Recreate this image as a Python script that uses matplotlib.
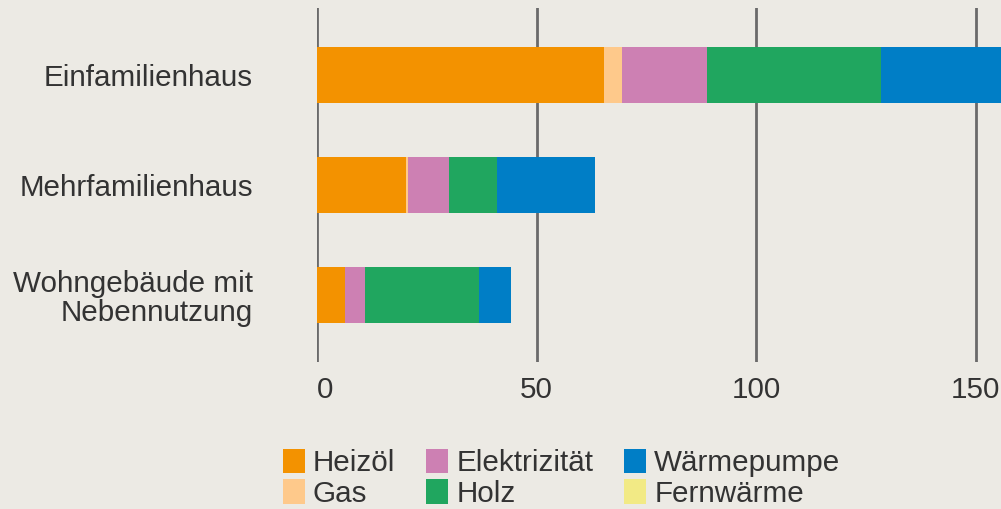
import numpy as np
import matplotlib.pyplot as plt

plt.rcParams['font.family'] = ['Liberation Sans', 'DejaVu Sans']

categories = ['Einfamilienhaus', 'Mehrfamilienhaus', 'Wohngebäude mit\nNebennutzung']
heizoel = [65.3, 20.3, 6.4]
gas = [4.2, 0.5, 0.0]
elektrizitaet = [19.4, 9.3, 4.5]
holz = [39.6, 11.0, 26.0]
waermepumpe = [35.0, 22.3, 7.3]
fernwaerme = [0.0, 0.0, 0.0]
xticks = [0, 50, 100, 150]

series = [
    ('Heizöl', heizoel, '#f39200'),
    ('Gas', gas, '#fec98b'),
    ('Elektrizität', elektrizitaet, '#cd80b3'),
    ('Holz', holz, '#20a65f'),
    ('Wärmepumpe', waermepumpe, '#007ec6'),
    ('Fernwärme', fernwaerme, '#f2ea85'),
]

bg = '#eceae4'
txt = '#333333'
fs = 21.3

fig = plt.figure(figsize=(10.01, 5.09), dpi=100, facecolor=bg)
ax = fig.add_axes([317 / 1001, 1 - 362 / 509, 1 - 317 / 1001, 354 / 509])
ax.set_facecolor(bg)

y = np.arange(len(categories))
left = np.zeros(len(categories))
for name, vals, col in series:
    ax.barh(y, vals, left=left, height=0.51, color=col, label=name, zorder=3)
    left += np.array(vals)

ax.set_xlim(0, 155.8)
ax.set_ylim(2.605, -0.61)
ax.set_xticks(xticks)
ax.set_yticks(y)
ax.set_yticklabels(categories, fontsize=fs, color=txt, linespacing=1.05)
ax.tick_params(axis='x', length=0, pad=10, labelsize=fs, labelcolor=txt)
ax.tick_params(axis='y', length=0, pad=46)
ax.get_xticklabels()[0].set_ha('left')
for s in ax.spines.values():
    s.set_visible(False)
ax.grid(axis='x', color='#6a6a6a', linewidth=2.0, zorder=0)
ax.set_axisbelow(True)

leg = fig.legend(loc='upper left', bbox_to_anchor=(283 / 1001, 1 - 449 / 509),
                 ncol=3, frameon=False, fontsize=fs, borderpad=0, borderaxespad=0,
                 handlelength=0.74, handleheight=0.88, handletextpad=0.27,
                 columnspacing=1.05, labelspacing=0.07, labelcolor=txt)

fig.savefig('out.png', dpi=100, facecolor=bg)
